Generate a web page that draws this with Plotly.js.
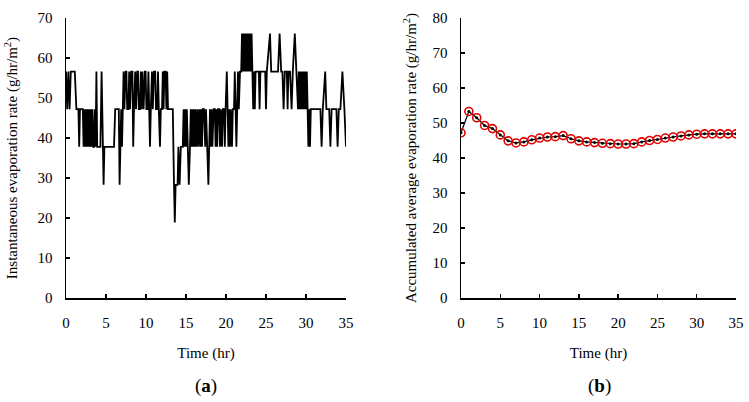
<!DOCTYPE html>
<html>
<head>
<meta charset="utf-8">
<script src="https://cdn.plot.ly/plotly-3.0.1.min.js"></script>
<style>html,body{margin:0;padding:0;background:#fff;}#chart{width:749px;height:402px;}</style>
</head>
<body>
<div id="chart"></div>
<script>
// (a) Instantaneous evaporation rate: time (hr) and value (g/hr/m2)
const instTime = [
0.0,0.15,0.3,0.45,0.6,1.1,1.3,1.55,1.65,1.75,2.1,2.2,2.3,2.4,2.5,2.6,2.7,2.8,2.9,3.0,3.1,3.2,3.3,3.4,3.5,3.6,3.7,3.8,3.9,4.3,4.45,4.6,4.7,4.8,6.0,6.15,6.6,6.7,6.8,6.9,7.0,
7.1,7.2,7.3,7.45,7.55,7.65,7.8,7.9,8.0,8.15,8.3,8.4,8.5,8.65,8.75,8.9,9.0,9.1,9.25,9.35,9.45,9.55,9.7,9.85,9.95,10.05,10.2,10.3,10.4,10.5,10.6,10.75,10.85,11.0,11.15,11.25,11.4,11.5,11.6,11.75,11.85,12.0,12.1,12.2,12.3,12.45,12.55,12.65,12.75,13.35,
13.5,13.6,13.7,13.95,14.05,14.2,14.35,14.6,14.7,14.8,14.9,15.0,15.1,15.2,15.35,15.5,15.6,15.7,15.8,15.9,16.0,16.1,16.2,16.3,16.45,16.55,16.7,16.8,16.9,17.0,17.1,17.25,17.4,17.5,17.65,17.8,17.9,18.0,18.1,18.2,18.3,18.45,18.6,18.7,18.8,18.9,19.0,19.15,19.25,19.35,19.5,19.6,19.75,19.85,19.95,20.1,20.2,20.3,20.4,20.5,20.6,20.75,20.85,21.0,21.1,21.2,21.3,21.4,21.5,21.6,21.75,21.9,22.0,22.1,22.2,22.3,22.4,22.5,22.6,22.7,22.8,22.9,23.0,23.1,23.2,23.3,23.4,23.5,23.6,23.7,24.1,24.2,24.3,24.9,25.0,25.1,25.5,25.65,26.5,26.7,26.9,27.05,27.2,27.35,27.6,27.7,27.8,28.0,28.2,28.35,28.6,28.8,29.0,29.1,29.2,29.3,29.4,29.5,29.6,29.7,29.8,29.9,30.0,30.1,30.2,30.3,30.4,30.5,30.6,31.8,31.95,32.1,32.4,32.55,32.9,33.05,33.2,33.8,33.95,34.1,34.3,34.55,34.8,35.0
];
const instRate = [
56.6,47.2,56.6,47.2,56.6,56.6,47.2,47.2,37.8,47.2,47.2,37.8,47.2,37.8,47.2,37.8,47.2,37.8,47.2,37.8,47.2,37.8,47.2,37.8,37.8,47.2,37.8,56.6,37.8,37.8,56.6,37.8,28.3,37.8,37.8,47.2,47.2,28.3,37.8,47.2,37.8,
47.2,56.6,47.2,56.6,56.6,47.2,47.2,56.6,47.2,56.6,56.6,37.8,47.2,56.6,47.2,56.6,56.6,47.2,47.2,56.6,47.2,56.6,47.2,56.6,56.6,47.2,47.2,56.6,47.2,37.8,47.2,56.6,47.2,56.6,56.6,47.2,47.2,56.6,47.2,37.8,47.2,47.2,56.6,47.2,56.6,56.6,47.2,56.6,47.2,47.2,
28.3,18.9,28.3,28.3,37.8,28.3,37.8,37.8,47.2,37.8,47.2,37.8,47.2,37.8,28.3,37.8,47.2,37.8,47.2,37.8,47.2,37.8,47.2,37.8,47.2,37.8,47.2,37.8,47.2,37.8,47.2,47.2,37.8,47.2,37.8,28.3,37.8,47.2,37.8,47.2,37.8,47.2,47.2,37.8,47.2,37.8,47.2,47.2,37.8,47.2,37.8,47.2,47.2,37.8,47.2,56.6,47.2,37.8,47.2,37.8,47.2,37.8,47.2,47.2,56.6,47.2,37.8,47.2,56.6,47.2,56.6,56.6,66.1,56.6,66.1,56.6,66.1,56.6,66.1,56.6,66.1,56.6,66.1,56.6,66.1,56.6,47.2,56.6,47.2,56.6,56.6,47.2,56.6,56.6,47.2,56.6,66.1,56.6,56.6,66.1,56.6,56.6,47.2,56.6,56.6,47.2,56.6,56.6,47.2,56.6,66.1,56.6,47.2,56.6,47.2,56.6,47.2,56.6,47.2,56.6,47.2,56.6,47.2,56.6,47.2,37.8,47.2,37.8,47.2,47.2,37.8,47.2,56.6,47.2,47.2,37.8,47.2,47.2,37.8,47.2,47.2,56.6,47.2,37.8
];

// (b) Accumulated average evaporation rate, hourly
const accTime = [0,1,2,3,4,5,6,7,8,9,10,11,12,13,14,15,16,17,18,19,20,21,22,23,24,25,26,27,28,29,30,31,32,33,34,35];
const accRate = [47.2,53.3,51.5,49.3,48.4,46.6,44.9,44.3,44.6,45.2,45.7,46.0,46.1,46.4,45.5,44.9,44.6,44.4,44.2,44.1,44.0,44.0,44.1,44.6,45.0,45.3,45.7,46.0,46.3,46.6,46.8,46.9,46.9,46.9,46.9,46.9];

const xTicks = [0,5,10,15,20,25,30,35];
const yTicksA = [0,10,20,30,40,50,60,70];
const yTicksB = [0,10,20,30,40,50,60,70,80];

const FONT = "'Liberation Serif', 'Times New Roman', serif";

const traces = [
  {x: instTime, y: instRate, type: 'scatter', mode: 'lines', line: {color: '#000', width: 1.8}, xaxis: 'x', yaxis: 'y', hoverinfo: 'skip'},
  {x: accTime, y: accRate, type: 'scatter', mode: 'lines+markers', line: {color: '#000', width: 1.2}, marker: {color: '#000', size: 3}, xaxis: 'x2', yaxis: 'y2', hoverinfo: 'skip'},
  {x: accTime, y: accRate, type: 'scatter', mode: 'markers', marker: {symbol: 'circle-open', color: '#e00000', size: 8, line: {width: 1.6, color: '#e00000'}}, xaxis: 'x2', yaxis: 'y2', hoverinfo: 'skip'}
];

function xax(domain, anchor) {
  return {domain: domain, anchor: anchor, range: [0, 35], tickvals: xTicks, ticktext: xTicks.map(String),
    showgrid: false, zeroline: false, showline: true, linecolor: '#000', linewidth: 1.5,
    ticks: 'inside', ticklen: 4, tickwidth: 1.3, tickcolor: '#000', ticklabelstandoff: 10,
    tickfont: {family: FONT, size: 15, color: '#000'},
    title: {text: 'Time (hr)', font: {family: FONT, size: 15, color: '#000'}, standoff: 18}};
}
function yax(domain, anchor, top, ticks, title, so) {
  return {domain: domain, anchor: anchor, range: [0, top], tickvals: ticks, ticktext: ticks.map(String),
    showgrid: false, zeroline: false, showline: true, linecolor: '#000', linewidth: 1.5,
    ticks: 'inside', ticklen: 4, tickwidth: 1.3, tickcolor: '#000', ticklabelstandoff: 9,
    tickfont: {family: FONT, size: 15, color: '#000'},
    title: {text: title, font: {family: FONT, size: 15, color: '#000'}, standoff: so}};
}

const yDom = [104/402, 384/402];
const layout = {
  width: 749, height: 402, margin: {l: 0, r: 0, t: 0, b: 0},
  paper_bgcolor: '#fff', plot_bgcolor: '#fff', showlegend: false,
  xaxis: xax([66/749, 346/749], 'y'),
  yaxis: yax(yDom, 'x', 70, yTicksA, 'Instantaneous evaporation rate (g/hr/m<sup>2</sup>)', 16),
  xaxis2: xax([461/749, 736/749], 'y2'),
  yaxis2: yax(yDom, 'x2', 80, yTicksB, 'Accumulated average evaporation rate (g/hr/m<sup>2</sup>)', 12),
  annotations: [
    {text: '(<b>a</b>)', xref: 'paper', yref: 'paper', x: 206/749, y: 1 - 386/402, xanchor: 'center', yanchor: 'middle', showarrow: false, font: {family: FONT, size: 19, color: '#000'}},
    {text: '(<b>b</b>)', xref: 'paper', yref: 'paper', x: 599/749, y: 1 - 386/402, xanchor: 'center', yanchor: 'middle', showarrow: false, font: {family: FONT, size: 19, color: '#000'}}
  ]
};

Plotly.newPlot('chart', traces, layout, {displayModeBar: false, staticPlot: true});
</script>
</body>
</html>
